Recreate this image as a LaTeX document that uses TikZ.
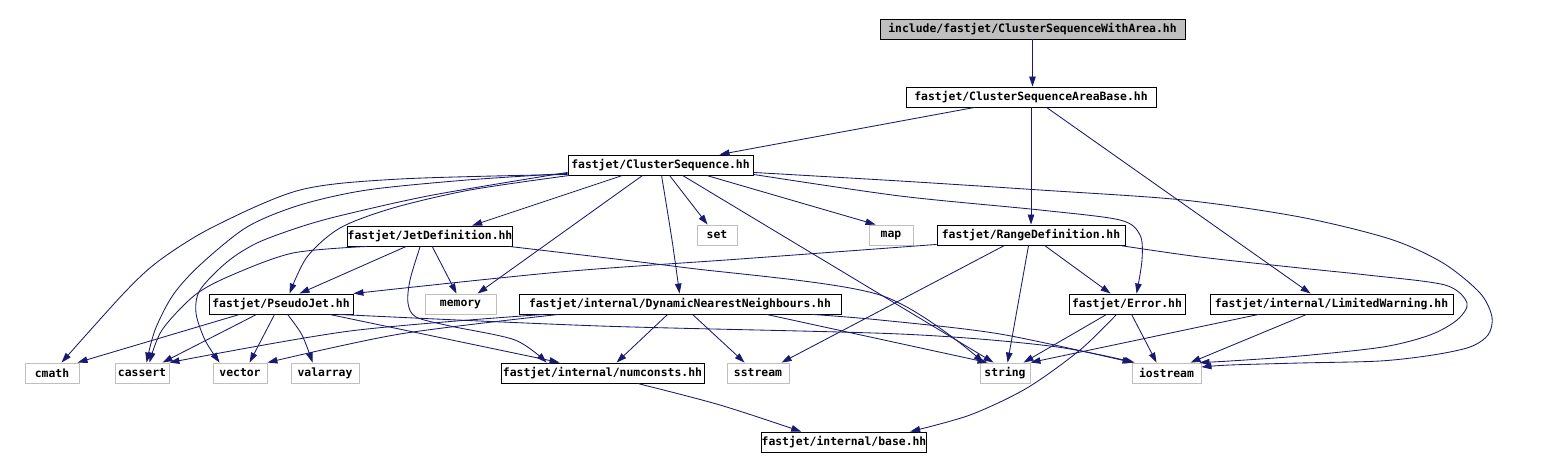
\documentclass[tikz,border=0pt]{standalone}
\usepackage{fontspec}
\newfontfamily\gfont{DejaVu Sans Mono}
\usetikzlibrary{arrows.meta}
\definecolor{edgecol}{RGB}{25,25,112}
\definecolor{extgray}{RGB}{191,191,191}
\begin{document}
\begin{tikzpicture}[x=1pt,y=-1pt,
  box/.style={draw=black, line width=0.9pt, minimum height=20pt, inner sep=0pt,
    font=\gfont\bfseries\fontsize{11.4}{13}\selectfont, text=black},
  ext/.style={box, draw=extgray},
  edge/.style={draw=edgecol, line width=0.85pt, -{Triangle[length=10pt,width=6.5pt]}},
]
\fill[white] (0,0) rectangle (1558,470);
\useasboundingbox (0,0) rectangle (1558,470);

% nodes
\node[box, fill=extgray, minimum width=305pt] (top) at (1032.5,29) {include/fastjet/ClusterSequenceWithArea.hh};
\node[box, minimum width=250pt] (csab) at (1031,97) {fastjet/ClusterSequenceAreaBase.hh};
\node[box, minimum width=185pt] (cs) at (660.5,165) {fastjet/ClusterSequence.hh};
\node[ext, minimum width=40pt] (set) at (717,235) {set};
\node[ext, minimum width=44pt] (map) at (891,235) {map};
\node[box, minimum width=188pt] (rd) at (1031,235) {fastjet/RangeDefinition.hh};
\node[box, minimum width=164pt] (jd) at (430,236) {fastjet/JetDefinition.hh};
\node[box, minimum width=144pt] (pj) at (281,304) {fastjet/PseudoJet.hh};
\node[ext, minimum width=71pt] (mem) at (460.5,304) {memory};
\node[box, minimum width=322pt] (dnn) at (680,304) {fastjet/internal/DynamicNearestNeighbours.hh};
\node[box, minimum width=116pt] (err) at (1127,304) {fastjet/Error.hh};
\node[box, minimum width=243pt] (lw) at (1331.5,304) {fastjet/internal/LimitedWarning.hh};
\node[ext, minimum width=54pt] (cmath) at (52,373) {cmath};
\node[ext, minimum width=54pt] (cassert) at (142,373) {cassert};
\node[ext, minimum width=54pt] (vector) at (240,373) {vector};
\node[ext, minimum width=68pt] (valarray) at (325,373) {valarray};
\node[box, minimum width=203pt] (nc) at (602.5,373) {fastjet/internal/numconsts.hh};
\node[ext, minimum width=62pt] (sstream) at (758,373) {sstream};
\node[ext, minimum width=50pt] (string) at (1005,373) {string};
\node[ext, minimum width=69pt] (io) at (1166.5,373) {iostream};
\node[box, minimum width=162pt] (base) at (844,442) {fastjet/internal/base.hh};

% edges from top / area base
\draw[edge] (top.south) -- (top.south |- csab.north);
\draw[edge] ([xshift=69pt]csab.south west) -- ([xshift=152pt]cs.north west);
\draw[edge] (csab.south) -- (rd.north);
\draw[edge] ([xshift=141pt]csab.south west) -- ([xshift=101pt]lw.north west);

% ClusterSequence
\draw[edge] plot[smooth] coordinates {([yshift=1pt]cs.south west) (400,179) (300,190) (213,227) (160,260) (125,292) ([xshift=37pt]cmath.north west)};
\draw[edge] plot[smooth] coordinates {([yshift=2pt]cs.south west) (467,180) (367,190) (300,205) (247,227) (200,265) (173,295) (155,330) ([xshift=32pt]cassert.north west)};
\draw[edge] plot[smooth] coordinates {([yshift=3pt]cs.south west) (433,195) (343,215) (300,227) (257,243) (227,262) (200,290) (196,313) (205,340) ([xshift=7pt]vector.north west)};
\draw[edge] plot[smooth] coordinates {([xshift=2pt]cs.south west) (470,190) (393,208) (340,228) (307,257) ([xshift=81pt]pj.north west)};
\draw[edge] ([xshift=55pt]cs.south west) -- ([xshift=125pt]jd.north west);
\draw[edge] ([xshift=75pt]cs.south west) -- ([xshift=53pt]mem.north west);
\draw[edge] plot[smooth] coordinates {([xshift=94pt]cs.south west) (672,240) ([xshift=161pt]dnn.north west)};
\draw[edge] ([xshift=102pt]cs.south west) -- ([xshift=11pt]set.north west);
\draw[edge] ([xshift=139pt]cs.south west) -- ([xshift=7pt]map.north west);
\draw[edge] ([xshift=115pt]cs.south west) -- ([xshift=14pt]string.north west);
\draw[edge] plot[smooth] coordinates {([yshift=1pt]cs.south east) (900,196) (1040,210) (1120,220) (1140,235) (1142,260) ([xshift=68pt]err.north west)};
\draw[edge] plot[smooth] coordinates {([yshift=3pt]cs.south east) (900,181) (1040,190) (1183,200) (1300,217) (1390,239) (1443,263) (1480,293) (1492,317) (1488,335) (1470,347) (1433,355) (1380,361) (1300,363) (1230,365) ([yshift=6pt]io.east)};

% RangeDefinition
\draw[edge] plot[smooth] coordinates {([xshift=183pt]rd.south west) (1200,257) (1300,268) (1367,275) (1445,285) (1467,303) (1457,320) (1430,335) (1383,347) (1300,356) (1230,361) ([xshift=-2pt]io.north east)};
\draw[edge] plot[smooth] coordinates {([yshift=1pt]rd.south west) (740,259) (560,272) (pj.north east)};
\draw[edge] ([xshift=68pt]rd.south west) -- ([xshift=55pt]sstream.north west);
\draw[edge] ([xshift=92pt]rd.south west) -- ([xshift=28pt]string.north west);
\draw[edge] ([xshift=108pt]rd.south west) -- ([xshift=42pt]err.north west);

% JetDefinition
\draw[edge] ([xshift=59pt]jd.south west) -- ([xshift=91pt]pj.north west);
\draw[edge] ([xshift=85pt]jd.south west) -- ([xshift=32pt]mem.north west);
\draw[edge] plot[smooth] coordinates {([xshift=73pt]jd.south west) (410,280) (408,303) (416,317) (450,326) (515,340) ([xshift=46pt]nc.north west)};
\draw[edge] plot[smooth] coordinates {([xshift=20pt]jd.south west) (293,253) (232,275) (195,295) (162,330) ([xshift=35pt]cassert.north west)};
\draw[edge] plot[smooth] coordinates {([xshift=162pt]jd.south west) (680,267) (880,295) ([xshift=4pt]string.north west)};

% PseudoJet
\draw[edge] ([xshift=31pt]pj.south west) -- ([xshift=53pt]cmath.north west);
\draw[edge] ([xshift=48pt]pj.south west) -- ([xshift=48pt]cassert.north west);
\draw[edge] ([xshift=66pt]pj.south west) -- ([xshift=37pt]vector.north west);
\draw[edge] plot[smooth] coordinates {([xshift=79pt]pj.south west) (302,335) ([xshift=22pt]valarray.north west)};
\draw[edge] ([xshift=121pt]pj.south west) -- ([xshift=59pt]nc.north west);
\draw[edge] plot[smooth] coordinates {([xshift=-15pt]pj.south east) (600,326) (900,334) (1050,346) ([xshift=3pt]io.north west)};

% DynamicNearestNeighbours
\draw[edge] ([xshift=149pt]dnn.south west) -- ([xshift=116pt]nc.north west);
\draw[edge] ([xshift=174pt]dnn.south west) -- ([xshift=18pt]sstream.north west);
\draw[edge] plot[smooth] coordinates {([xshift=40pt]dnn.south west) (400,334) (vector.north east)};
\draw[edge] plot[smooth] coordinates {([xshift=25pt]dnn.south west) (350,331) (cassert.north east)};
\draw[edge] ([xshift=248pt]dnn.south west) -- ([xshift=8pt]string.north west);
\draw[edge] plot[smooth] coordinates {([xshift=294pt]dnn.south west) (880,320) (1000,334) ([xshift=1pt]io.north west)};

% Error
\draw[edge] ([xshift=38pt]err.south west) -- ([xshift=44pt]string.north west);
\draw[edge] ([xshift=63pt]err.south west) -- ([xshift=25pt]io.north west);
\draw[edge] plot[smooth] coordinates {([xshift=48pt]err.south west) (1080,350) (1027,388) (970,415) ([xshift=149pt]base.north west)};

% LimitedWarning
\draw[edge] ([xshift=49pt]lw.south west) -- (string.north east);
\draw[edge] ([xshift=97pt]lw.south west) -- ([xshift=59pt]io.north west);

% numconsts
\draw[edge] plot[smooth] coordinates {([xshift=137pt]nc.south west) (720,405) ([xshift=40pt]base.north west)};
\end{tikzpicture}
\end{document}
